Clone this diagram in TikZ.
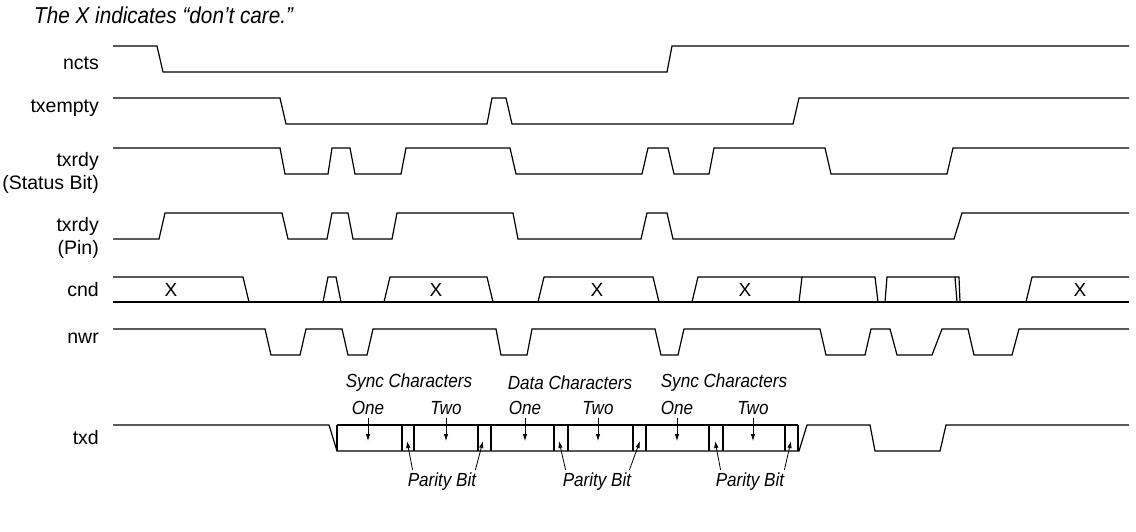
\documentclass[tikz,border=0pt]{standalone}
\usepackage{fontspec}
\setmainfont{Liberation Sans}
\newfontfamily\condit[FakeStretch=0.9]{Liberation Sans Italic}
\usepackage{tikz}
\usetikzlibrary{arrows.meta}
\usetikzlibrary{positioning}

\begin{document}
\begin{tikzpicture}[x=1pt, y=-1pt,
		wave/.style={line width=1.2pt, line join=miter},
		lbl/.style={anchor=east, align=right, inner sep=0pt, font=\fontsize{19.5}{23.5}\selectfont},
		note/.style={inner sep=0pt, font=\fontsize{19}{22}\condit},
		ptr/.style={line width=0.8pt, -{Latex[length=7pt,width=4.5pt]}}]
		\useasboundingbox (0,0) rectangle (1136,531);
		% title
		\node[note, anchor=west, font=\fontsize{23}{27}\condit] (title) at (34,15) {The X indicates “don’t care.”};
		% signal names
		\node[lbl] (ncts) at (99,63) {ncts};
		\node[lbl] (txempty) at (99,108) {txempty};
		\node[lbl] (txrdys) at (99,173) {txrdy\\(Status Bit)};
		\node[lbl] (txrdyp) at (99,238) {txrdy\\(Pin)};
		\node[lbl] (cnd) at (99,290) {cnd};
		\node[lbl] (nwr) at (99,338) {nwr};
		\node[lbl] (txd) at (99,438) {txd};
		% ncts
		\draw[wave] (113,46) -- (157,46) -- (163,72) -- (667,72) -- (672,46) -- (1129,46);
		% txempty
		\draw[wave] (113,98) -- (280,98) -- (286,124) -- (487,124) -- (492,98) -- (506,98) -- (512,124)
			-- (793,124) -- (799,98) -- (1129,98);
		% txrdy (status bit)
		\draw[wave] (113,148) -- (280,148) -- (285,174) -- (328,174) -- (332,148) -- (350,148) -- (355,174)
			-- (401,174) -- (406,148) -- (510,148) -- (516,174) -- (642,174) -- (648,148) -- (668,148)
			-- (674,174) -- (709,174) -- (714,148) -- (825,148) -- (831,174) -- (947,174) -- (953,148) -- (1129,148);
		% txrdy (pin)
		\draw[wave] (113,239) -- (159,239) -- (165,213) -- (282,213) -- (288,239) -- (327,239) -- (332,213)
			-- (348,213) -- (353,239) -- (392,239) -- (397,213) -- (513,213) -- (518,239) -- (641,239)
			-- (647,213) -- (667,213) -- (673,239) -- (954,239) -- (962,213) -- (1129,213);
		% cnd
		\draw[wave] (113,302) -- (1129,302);
		\draw[wave] (113,277) -- (243,277) -- (249,302);
		\draw[wave] (323,302) -- (328,277) -- (336,277) -- (341,302);
		\draw[wave] (384,302) -- (390,277) -- (487,277) -- (493,302);
		\draw[wave] (538,302) -- (544,277) -- (653,277) -- (659,302);
		\draw[wave] (692,302) -- (698,277) -- (802,277) -- (799,302);
		\draw[wave] (802,277) -- (875,277) -- (878,302);
		\draw[wave] (885,302) -- (887,277) -- (959,277) -- (960,302);
		\draw[wave] (955,277) -- (957,302);
		\draw[wave] (1026,302) -- (1032,277) -- (1129,277);
		\foreach \x in {171,436,597,745,1080} {
			\node[inner sep=0pt, font=\fontsize{19}{22}\selectfont] at (\x,290) {X};
		}
		% nwr
		\draw[wave] (113,329) -- (265,329) -- (271,355) -- (300,355) -- (306,329) -- (342,329) -- (348,355)
			-- (367,355) -- (373,329) -- (496,329) -- (501,355) -- (527,355) -- (532,329) -- (655,329)
			-- (661,355) -- (678,355) -- (684,329) -- (820,329) -- (826,355) -- (865,355) -- (871,329)
			-- (890,329) -- (897,355) -- (932,355) -- (942,329) -- (968,329) -- (974,355) -- (1012,355)
			-- (1019,329) -- (1129,329);
		% txd
		\draw[wave] (113,425) -- (329,425) -- (337,451) -- (799,451) -- (807,425) -- (870,425) -- (875,451)
			-- (940,451) -- (946,425) -- (1129,425);
		\draw[wave] (337,425) -- (798,425);
		\foreach \x in {337,402,414,478,491,554,568,633,646,709,723,785,798} {
			\draw[wave] (\x,425) -- (\x,451);
		}
		% character labels
		\coordinate (mid) at (0,441);
		\node[note] (sync1) at (409,383) {Sync Characters};
		\node[note] (data) at (570,383) {Data Characters};
		\node[note] (sync2) at (724,383) {Sync Characters};
		\foreach \n/\x/\t in {s1/368/One, s2/446/Two, d1/525/One, d2/598/Two, t1/677/One, t2/753/Two} {
			\node[note] (\n) at (\x,408) {\t};
			\draw[ptr] ([yshift=-3pt]\n.south) -- (\n.south |- mid);
		}
		% parity bits
		\node[note] (pb1) at (442,482) {Parity Bit};
		\node[note] (pb2) at (597,482) {Parity Bit};
		\node[note] (pb3) at (750,482) {Parity Bit};
		\coordinate (pa) at (407,441);
		\coordinate (pb) at (483,441);
		\coordinate (pc) at (559,441);
		\coordinate (pd) at (640,441);
		\coordinate (pe) at (715,441);
		\coordinate (pf) at (791,441);
		\draw[ptr] ([xshift=5pt,yshift=3pt]pb1.north west) -- (pa);
		\draw[ptr] ([xshift=-1pt,yshift=3pt]pb1.north east) -- (pb);
		\draw[ptr] ([xshift=3pt,yshift=3pt]pb2.north west) -- (pc);
		\draw[ptr] ([xshift=-2pt,yshift=3pt]pb2.north east) -- (pd);
		\draw[ptr] ([xshift=5pt,yshift=3pt]pb3.north west) -- (pe);
		\draw[ptr] ([xshift=0pt,yshift=3pt]pb3.north east) -- (pf);
	\end{tikzpicture}
\end{document}
